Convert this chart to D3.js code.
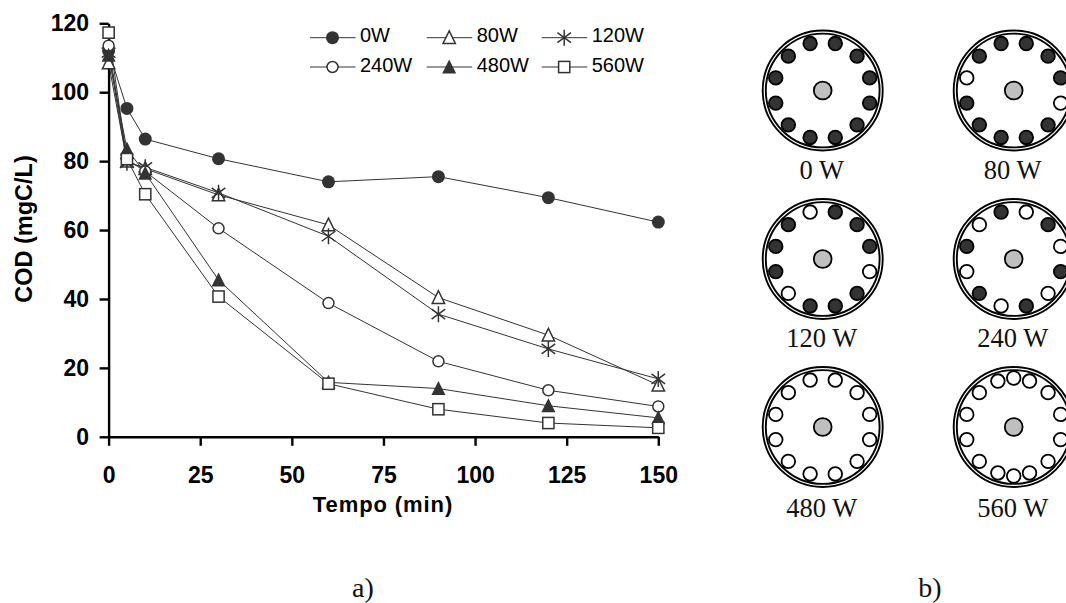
<!DOCTYPE html>
<html><head><meta charset="utf-8">
<script src="https://cdn.jsdelivr.net/npm/d3@7"></script>
<style>html,body{margin:0;padding:0;background:#fff;overflow:hidden}svg{display:block}</style>
</head><body><svg id="c" width="1066" height="603"></svg>
<script>
const times=[0,5,10,30,60,90,120,150];
const w0=[112,95.3,86.4,80.7,74,75.5,69.4,62.3];
const w80=[108.5,80,77.8,70.2,61.5,40.4,29.5,15];
const w120=[111.5,79.5,78.2,70.8,58.2,35.6,25.5,16.8];
const w240=[113.5,80.5,77,60.5,38.8,21.9,13.5,8.8];
const w480=[110.7,83.5,76.5,45.5,15.8,14,9,5.5];
const w560=[117.3,80.6,70.4,40.7,15.4,8,4,2.6];
const seriesNames=["0W","80W","120W","240W","480W","560W"];
const seriesValues=[w0,w80,w120,w240,w480,w560];
const seriesMarks=["dot","triOpen","star","ring","tri","square"];
const xTicks=[0,25,50,75,100,125,150];
const yTicks=[0,20,40,60,80,100,120];
const panelTitles=["0 W","80 W","120 W","240 W","480 W","560 W"];
const angles12=[75,45,15,-15,-45,-75,-105,-135,-165,165,135,105];
const angles16=[71,90,109,45,15,-15,-45,-71,-90,-109,-135,-165,165,135];
const lampsOff=[[],[-15,165],[105,-15,-135],[75,135,15,-165,-45,-105],angles12,angles16];
const captions=["a)","b)"];

const svg=d3.select("#c");
const x=d3.scaleLinear().domain([0,150]).range([108.6,658.3]);
const y=d3.scaleLinear().domain([0,120]).range([436.8,23.3]);
const dark="#333";
const g=svg.append("g");
function marker(sel,kind,px,py){
  const o=sel.append("g").attr("transform",`translate(${px},${py})`);
  if(kind==="dot")o.append("circle").attr("r",6.5).attr("fill",dark);
  if(kind==="ring")o.append("circle").attr("r",5.5).attr("fill","#fff").attr("stroke",dark).attr("stroke-width",1.5);
  if(kind==="square")o.append("rect").attr("x",-5.6).attr("y",-5.6).attr("width",11.2).attr("height",11.2).attr("fill","#fff").attr("stroke",dark).attr("stroke-width",1.5);
  if(kind==="tri")o.append("path").attr("d","M0,-7.5L7,6.5L-7,6.5Z").attr("fill",dark);
  if(kind==="triOpen")o.append("path").attr("d","M0,-6.8L6.2,5.8L-6.2,5.8Z").attr("fill","#fff").attr("stroke",dark).attr("stroke-width",1.5);
  if(kind==="star")o.append("path").attr("d","M0,-8V8M-6.8,-5L6.8,5M-6.8,5L6.8,-5").attr("fill","none").attr("stroke",dark).attr("stroke-width",1.5);
}
const line=d3.line().x((d,i)=>x(times[i])).y(d=>y(d));
seriesValues.forEach((vals,i)=>{
  g.append("path").attr("d",line(vals)).attr("fill","none").attr("stroke",dark).attr("stroke-width",1);
});
// axes
const tickFont="bold 23px 'Liberation Sans'";
const ax=g.append("g").attr("transform",`translate(0,${y(0)})`).call(d3.axisBottom(x).tickValues(xTicks).tickSize(9).tickPadding(21).tickSizeOuter(0));
const ay=g.append("g").attr("transform",`translate(${x(0)},0)`).call(d3.axisLeft(y).tickValues(yTicks).tickSize(9).tickPadding(10.6).tickSizeOuter(0));
[ax,ay].forEach(a=>{a.selectAll("path,line").attr("stroke","#000").attr("stroke-width",2.4);
  a.selectAll("text").style("font",tickFont).attr("fill","#000");});
seriesValues.forEach((vals,i)=>{
  vals.forEach((v,j)=>marker(g,seriesMarks[i],x(times[j]),y(v)));
});
g.append("text").text("COD (mgC/L)").attr("transform","translate(32,229) rotate(-90)").attr("text-anchor","middle").style("font","bold 23.5px 'Liberation Sans'").attr("fill","#000");
g.append("text").text("Tempo (min)").attr("x",383).attr("y",512).attr("text-anchor","middle").style("font","bold 22px 'Liberation Sans'").style("letter-spacing","0.9px").attr("fill","#000");
// legend
const legX=d3.scaleOrdinal().domain([0,1,2]).range([310,426.7,541.7]);
const legY=d3.scaleOrdinal().domain([0,1]).range([37.7,67]);
seriesNames.forEach((n,i)=>{
  const c=i%3,r=Math.floor(i/3),lx=legX(c),ly=legY(r);
  g.append("line").attr("x1",lx).attr("x2",lx+45.5).attr("y1",ly).attr("y2",ly).attr("stroke",dark).attr("stroke-width",1);
  marker(g,seriesMarks[i],lx+22.5,ly);
  g.append("text").text(n).attr("x",lx+50).attr("y",ly+4.7).style("font","20px 'Liberation Sans'").attr("fill","#000");
});
// panel b
const cols=d3.scaleOrdinal().domain([0,1]).range([822.7,1013.7]);
const rowsY=d3.scaleOrdinal().domain([0,1,2]).range([90.5,259,427]);
const labelY=d3.scaleOrdinal().domain([0,1,2]).range([179,347,517]);
panelTitles.forEach((t,i)=>{
  const cx=cols(i%2),cy=rowsY(Math.floor(i/2));
  const p=svg.append("g").attr("transform",`translate(${cx},${cy})`);
  p.append("circle").attr("r",60).attr("fill","#fff").attr("stroke","#000").attr("stroke-width",1.9);
  p.append("circle").attr("r",56.9).attr("fill","#fff").attr("stroke","#000").attr("stroke-width",1.9);
  const off=lampsOff[i];
  const ang=i===5?angles16:angles12;
  ang.forEach(a=>{
    const rad=a*Math.PI/180, R=(i===5&&(a===90||a===-90))?49:48.6;
    p.append("circle").attr("cx",R*Math.cos(rad)).attr("cy",-R*Math.sin(rad)).attr("r",6.8)
     .attr("fill",off.includes(a)?"#fff":dark).attr("stroke","#000").attr("stroke-width",1.8);
  });
  p.append("circle").attr("r",8.9).attr("fill","#bfbfbf").attr("stroke","#000").attr("stroke-width",1.8);
  svg.append("text").text(t).attr("x",cx-1).attr("y",labelY(Math.floor(i/2))).attr("text-anchor","middle").style("font","26.5px 'Liberation Serif'").attr("fill","#111");
});
svg.append("text").text(captions[0]).attr("x",363).attr("y",597).attr("text-anchor","middle").style("font","28px 'Liberation Serif'").attr("fill","#111");
svg.append("text").text(captions[1]).attr("x",930).attr("y",597).attr("text-anchor","middle").style("font","28px 'Liberation Serif'").attr("fill","#111");
</script></body></html>
